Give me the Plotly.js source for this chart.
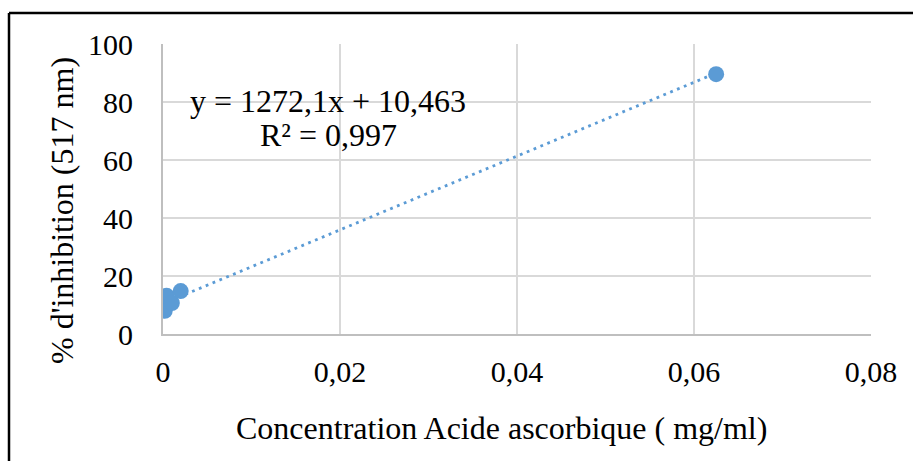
<!DOCTYPE html>
<html>
<head>
<meta charset="utf-8">
<script src="https://cdn.plot.ly/plotly-3.0.1.min.js"></script>
<style>
  html, body { margin: 0; padding: 0; background: #fff; }
  #chart { width: 913px; height: 461px; }
</style>
</head>
<body>
<div id="chart"></div>
<script>
// Data
const concentration = [0.0002, 0.0004, 0.001, 0.002, 0.0625];
const inhibition = [8.0, 13.2, 10.7, 14.8, 89.6];
const slope = 1272.1;
const intercept = 10.463;
const xTickVals = [0, 0.02, 0.04, 0.06, 0.08];
const xTickText = ['0', '0,02', '0,04', '0,06', '0,08'];
const yTickVals = [0, 20, 40, 60, 80, 100];
const yTickText = ['0', '20', '40', '60', '80', '100'];
const xTitle = 'Concentration Acide ascorbique ( mg/ml)';
const yTitle = "% d'inhibition (517 nm)";
const equationText = 'y = 1272,1x + 10,463';
const r2Text = 'R² = 0,997';

const xMin = Math.min(...concentration);
const xMax = Math.max(...concentration);
const trendX = [xMin, xMax];
const trendY = trendX.map(x => slope * x + intercept);

const blue = '#5B9BD5';
const font = 'Liberation Serif';

const traces = [
  {
    x: trendX, y: trendY, type: 'scatter', mode: 'lines',
    line: { color: blue, width: 2.8, dash: '2.8px,4.6px' },
    hoverinfo: 'skip', showlegend: false
  },
  {
    x: concentration, y: inhibition, type: 'scatter', mode: 'markers',
    marker: { color: blue, size: 16 },
    showlegend: false
  }
];

const L = 163, R = 871, T = 44, B = 334, W = 913, H = 461;
const pw = R - L, ph = B - T;
function px(x) { return (x - L) / pw; }
function py(y) { return (B - y) / ph; }

const layout = {
  width: W, height: H,
  margin: { l: L, r: W - R, t: T, b: H - B, pad: 0 },
  paper_bgcolor: '#fff', plot_bgcolor: '#fff',
  font: { family: font, color: '#000', size: 30 },
  xaxis: {
    range: [0, 0.08], tickvals: xTickVals, ticktext: xTickText,
    showgrid: true, gridcolor: '#d9d9d9', gridwidth: 1.5,
    zeroline: false, showline: true, linecolor: '#bfbfbf', linewidth: 2,
    ticks: '', ticklabelstandoff: 10,
    tickfont: { family: font, size: 30, color: '#000' },
    fixedrange: true
  },
  yaxis: {
    range: [0, 100], tickvals: yTickVals, ticktext: yTickText,
    showgrid: true, gridcolor: '#d9d9d9', gridwidth: 1.5,
    zeroline: false, showline: true, linecolor: '#bfbfbf', linewidth: 2,
    ticks: '', ticklabelstandoff: 22,
    tickfont: { family: font, size: 30, color: '#000' },
    fixedrange: true
  },
  annotations: [
    { xref: 'paper', yref: 'paper', x: px(501), y: py(428), text: xTitle, showarrow: false,
      xanchor: 'center', yanchor: 'middle', font: { family: font, size: 32, color: '#000' } },
    { xref: 'paper', yref: 'paper', x: px(62), y: py(211), text: yTitle, showarrow: false, textangle: -90,
      xanchor: 'center', yanchor: 'middle', font: { family: font, size: 32, color: '#000' } },
    { xref: 'paper', yref: 'paper', x: px(328), y: py(101), text: equationText, showarrow: false,
      xanchor: 'center', yanchor: 'middle', font: { family: font, size: 32, color: '#000' } },
    { xref: 'paper', yref: 'paper', x: px(328), y: py(135), text: r2Text, showarrow: false,
      xanchor: 'center', yanchor: 'middle', font: { family: font, size: 32, color: '#000' } }
  ],
  shapes: [
    { type: 'line', xref: 'paper', yref: 'paper', x0: px(9), x1: px(915), y0: py(13), y1: py(13), line: { color: '#000', width: 2.5 } },
    { type: 'line', xref: 'paper', yref: 'paper', x0: px(9), x1: px(9), y0: py(13), y1: py(463), line: { color: '#000', width: 2.5 } }
  ]
};

Plotly.newPlot('chart', traces, layout, { displayModeBar: false, staticPlot: true });
</script>
</body>
</html>
